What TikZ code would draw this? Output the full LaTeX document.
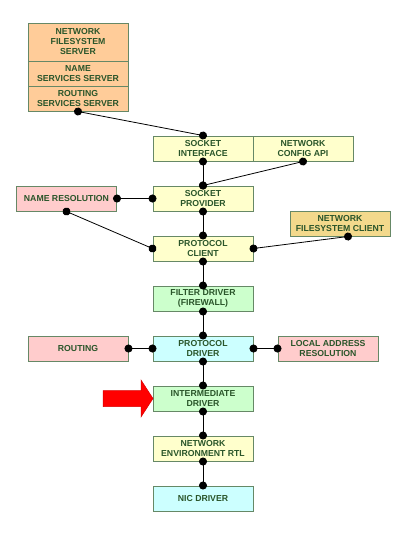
\documentclass[tikz,border=0pt]{standalone}
\usepackage{fontspec}
\setmainfont{Liberation Sans}
\usepackage{tikz}
\usetikzlibrary{
    arrows.meta,
    positioning
}
\definecolor{boxline}{HTML}{668866}
\definecolor{boxtext}{HTML}{2A552A}
\definecolor{peach}{HTML}{FFCC99}
\definecolor{paleyellow}{HTML}{FFFFCC}
\definecolor{palegreen}{HTML}{CCFFCC}
\definecolor{palecyan}{HTML}{CCFFFF}
\definecolor{palepink}{HTML}{FFCCCC}
\definecolor{gold}{HTML}{F3D98C}
\tikzset{
    layer/.style={draw=boxline, line width=1pt, rectangle, minimum width=100pt,
        minimum height=25pt, inner sep=0pt, align=center, text=boxtext,
        font=\bfseries\fontsize{8.7}{10}\selectfont},
    link/.style={{Circle[length=8pt,width=8pt]}-{Circle[length=8pt,width=8pt]},
        line width=0.8pt, shorten <=-4pt, shorten >=-4pt}
}
\begin{document}
\begin{tikzpicture}[x=1pt, y=-1pt]
                        \useasboundingbox (0, 0) rectangle (417, 552);
                        % servers
                        \node[layer, fill=peach, minimum height=38pt] (nfsserver) at (78, 42) {NETWORK\\FILESYSTEM\\SERVER};
                        \node[layer, fill=peach] (namesrv) at (78, 73.5) {NAME\\SERVICES SERVER};
                        \node[layer, fill=peach] (routesrv) at (78, 98.5) {ROUTING\\SERVICES SERVER};
                        % main stack
                        \node[layer, fill=paleyellow] (sockif) at (203, 148.5) {SOCKET\\INTERFACE};
                        \node[layer, fill=paleyellow] (netcfg) at (303, 148.5) {NETWORK\\CONFIG API};
                        \node[layer, fill=paleyellow] (sockprov) at (203, 198.5) {SOCKET\\PROVIDER};
                        \node[layer, fill=palepink] (nameres) at (66.5, 198.5) {NAME RESOLUTION};
                        \node[layer, fill=paleyellow] (protclient) at (203, 248.5) {PROTOCOL\\CLIENT};
                        \node[layer, fill=gold] (nfsclient) at (340, 223.5) {NETWORK\\FILESYSTEM CLIENT};
                        \node[layer, fill=palegreen] (filter) at (203, 298.5) {FILTER DRIVER\\(FIREWALL)};
                        \node[layer, fill=palecyan] (protdrv) at (203, 348.5) {PROTOCOL\\DRIVER};
                        \node[layer, fill=palepink] (routing) at (78, 348.5) {ROUTING};
                        \node[layer, fill=palepink] (localaddr) at (328, 348.5) {LOCAL ADDRESS\\RESOLUTION};
                        \node[layer, fill=palegreen] (interdrv) at (203, 398.5) {INTERMEDIATE\\DRIVER};
                        \node[layer, fill=paleyellow] (envrtl) at (203, 448.5) {NETWORK\\ENVIRONMENT RTL};
                        \node[layer, fill=palecyan] (nicdrv) at (203, 498.5) {NIC DRIVER};
                        % red pointer
                        \fill[red, draw=red!85!black, line width=0.5pt]
                        (103, 390.5) -- (141, 390.5) -- (141, 380) -- (153, 398.5)
                        -- (141, 417) -- (141, 406.5) -- (103, 406.5) -- cycle;
                        % links
                        \draw[link] (routesrv.south) -- (sockif.north);
                        \draw[link] (sockif.south) -- (sockprov.north);
                        \draw[link] (netcfg.south) -- (sockprov.north);
                        \draw[link] (nameres.east) -- (sockprov.west);
                        \draw[link] (nameres.south) -- (protclient.west);
                        \draw[link] (sockprov.south) -- (protclient.north);
                        \draw[link] (protclient.east) -- ([xshift=8pt]nfsclient.south);
                        \draw[link] (protclient.south) -- (filter.north);
                        \draw[link] (filter.south) -- (protdrv.north);
                        \draw[link] (routing.east) -- (protdrv.west);
                        \draw[link] (protdrv.east) -- (localaddr.west);
                        \draw[link] (protdrv.south) -- (interdrv.north);
                        \draw[link] (interdrv.south) -- (envrtl.north);
                        \draw[link] (envrtl.south) -- (nicdrv.north);
                    \end{tikzpicture}
\end{document}
